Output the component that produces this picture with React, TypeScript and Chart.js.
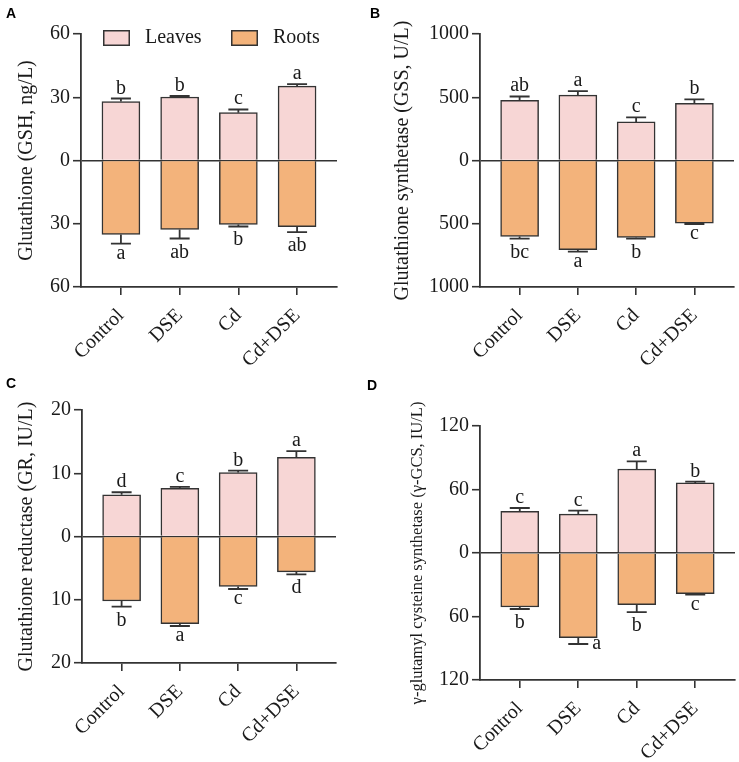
import React, { useEffect, useRef } from 'react';
import { Chart, registerables } from 'chart.js';
Chart.register(...registerables);

// ---------- data ----------
const categories = ['Control', 'DSE', 'Cd', 'Cd+DSE'];
const seriesNames = ['Leaves', 'Roots'];

// A: Glutathione (GSH, ng/L)
const gshTicks = [-60, -30, 0, 30, 60];
const gshLeaves = [28.0, 30.1, 22.7, 35.3];
const gshLeavesSE = [1.4, 0.5, 1.5, 0.9];
const gshRoots = [35.1, 32.7, 30.3, 31.4];
const gshRootsSE = [4.3, 4.3, 1.0, 2.6];
const gshLeavesLetters = ['b', 'b', 'c', 'a'];
const gshRootsLetters = ['a', 'ab', 'b', 'ab'];

// B: Glutathione synthetase (GSS, U/L)
const gssTicks = [-1000, -500, 0, 500, 1000];
const gssLeaves = [475, 517, 305, 451];
const gssLeavesSE = [31, 32, 36, 32];
const gssRoots = [601, 704, 609, 495];
const gssRootsSE = [16, 16, 8, 7];
const gssLeavesLetters = ['ab', 'a', 'c', 'b'];
const gssRootsLetters = ['bc', 'a', 'b', 'c'];

// C: Glutathione reductase (GR, IU/L)
const grTicks = [-20, -10, 0, 10, 20];
const grLeaves = [6.6, 7.6, 10.1, 12.5];
const grLeavesSE = [0.4, 0.25, 0.3, 1.0];
const grRoots = [10.2, 13.8, 7.9, 5.6];
const grRootsSE = [0.9, 0.35, 0.4, 0.4];
const grLeavesLetters = ['d', 'c', 'b', 'a'];
const grRootsLetters = ['b', 'a', 'c', 'd'];

// D: gamma-glutamyl cysteine synthetase (γ-GCS, IU/L)
const gcsTicks = [-120, -60, 0, 60, 120];
const gcsLeaves = [39.4, 36.8, 79.4, 66.2];
const gcsLeavesSE = [3.1, 3.2, 7.2, 1.2];
const gcsRoots = [51.0, 80.0, 48.8, 38.4];
const gcsRootsSE = [1.9, 6.0, 7.0, 1.0];
const gcsLeavesLetters = ['c', 'c', 'a', 'b'];
const gcsRootsLetters = ['b', 'a', 'b', 'c'];

// ---------- styles ----------
const LEAF = '#F7D6D5';
const ROOT = '#F3B37B';
const EDGE = '#333333';
const INK = '#1a1a1a';
const SERIF = "'Liberation Serif', 'Times New Roman', serif";

type Panel = {
  letter: string;
  title: string;
  titleSize: number;
  titleX: number;
  ticks: number[];
  leaves: number[];
  leavesSE: number[];
  roots: number[];
  rootsSE: number[];
  leavesLetters: string[];
  rootsLetters: string[];
  rootsSide?: boolean[];
  legend?: boolean;
  box: { left: number; top: number; w: number; h: number };
  area: { l: number; t: number; r: number; b: number };
  labelPos: [number, number];
};

const panels: Panel[] = [
  {
    letter: 'A', title: 'Glutathione (GSH, ng/L)', titleSize: 20, titleX: 27,
    ticks: gshTicks, leaves: gshLeaves, leavesSE: gshLeavesSE, roots: gshRoots, rootsSE: gshRootsSE,
    leavesLetters: gshLeavesLetters, rootsLetters: gshRootsLetters, legend: true,
    box: { left: 0, top: 0, w: 360, h: 370 }, area: { l: 81, t: 34, r: 337, b: 287 }, labelPos: [6, 18],
  },
  {
    letter: 'B', title: 'Glutathione synthetase (GSS, U/L)', titleSize: 20, titleX: 43,
    ticks: gssTicks, leaves: gssLeaves, leavesSE: gssLeavesSE, roots: gssRoots, rootsSE: gssRootsSE,
    leavesLetters: gssLeavesLetters, rootsLetters: gssRootsLetters,
    box: { left: 360, top: 0, w: 379, h: 370 }, area: { l: 120, t: 34, r: 374, b: 287 }, labelPos: [10, 18],
  },
  {
    letter: 'C', title: 'Glutathione reductase (GR, IU/L)', titleSize: 20, titleX: 27,
    ticks: grTicks, leaves: grLeaves, leavesSE: grLeavesSE, roots: grRoots, rootsSE: grRootsSE,
    leavesLetters: grLeavesLetters, rootsLetters: grRootsLetters,
    box: { left: 0, top: 370, w: 360, h: 392 }, area: { l: 82, t: 40, r: 336, b: 293 }, labelPos: [6, 18],
  },
  {
    letter: 'D', title: 'γ-glutamyl cysteine synthetase (γ-GCS, IU/L)', titleSize: 16.5, titleX: 58,
    ticks: gcsTicks, leaves: gcsLeaves, leavesSE: gcsLeavesSE, roots: gcsRoots, rootsSE: gcsRootsSE,
    leavesLetters: gcsLeavesLetters, rootsLetters: gcsRootsLetters, rootsSide: [false, true, false, false],
    box: { left: 360, top: 370, w: 379, h: 392 }, area: { l: 120, t: 56, r: 375, b: 310 }, labelPos: [7, 20],
  },
];

const BAR_W = 38;

function makeAnnot(p: Panel) {
  return {
    id: 'annot' + p.letter,
    afterDatasetsDraw(chart: any) {
      const { ctx } = chart;
      const xs = chart.scales.x;
      const ys = chart.scales.y;
      ctx.save();
      ctx.strokeStyle = EDGE;
      ctx.lineWidth = 1.8;
      const cap = 10;
      ctx.font = `20px ${SERIF}`;
      ctx.fillStyle = INK;
      categories.forEach((_, i) => {
        const cx = xs.getPixelForValue(i);
        const y0 = ys.getPixelForValue(p.leaves[i]);
        const y1 = ys.getPixelForValue(p.leaves[i] + p.leavesSE[i]);
        ctx.beginPath();
        ctx.moveTo(cx, y0); ctx.lineTo(cx, y1);
        ctx.moveTo(cx - cap, y1); ctx.lineTo(cx + cap, y1);
        ctx.stroke();
        const r0 = ys.getPixelForValue(-p.roots[i]);
        const r1 = ys.getPixelForValue(-(p.roots[i] + p.rootsSE[i]));
        ctx.beginPath();
        ctx.moveTo(cx, r0); ctx.lineTo(cx, r1);
        ctx.moveTo(cx - cap, r1); ctx.lineTo(cx + cap, r1);
        ctx.stroke();
        ctx.textAlign = 'center';
        ctx.textBaseline = 'alphabetic';
        ctx.fillText(p.leavesLetters[i], cx, y1 - 5);
        const lt = p.rootsLetters[i];
        if (p.rootsSide && p.rootsSide[i]) {
          ctx.textAlign = 'left';
          ctx.fillText(lt, cx + cap + 4, r1 + 5);
        } else {
          const asc = ctx.measureText(lt).actualBoundingBoxAscent || 13;
          ctx.fillText(lt, cx, r1 + 5 + asc);
        }
      });
      ctx.restore();
    },
    afterDraw(chart: any) {
      const { ctx, chartArea } = chart;
      ctx.save();
      ctx.fillStyle = INK;
      ctx.font = `${p.titleSize}px ${SERIF}`;
      ctx.textAlign = 'center';
      ctx.textBaseline = 'middle';
      ctx.translate(p.titleX, (chartArea.top + chartArea.bottom) / 2);
      ctx.rotate(-Math.PI / 2);
      ctx.fillText(p.title, 0, 0);
      ctx.restore();
      ctx.save();
      ctx.fillStyle = '#000';
      ctx.font = `bold 14px 'Liberation Sans', Arial, sans-serif`;
      ctx.textAlign = 'left';
      ctx.textBaseline = 'alphabetic';
      ctx.fillText(p.letter, p.labelPos[0], p.labelPos[1]);
      ctx.restore();
      if (p.legend) {
        ctx.save();
        const ds = chart.data.datasets;
        const items = [
          { x: 103, tx: 145 },
          { x: 231, tx: 273 },
        ];
        ds.forEach((d: any, k: number) => {
          const it = items[k];
          ctx.fillStyle = d.backgroundColor;
          ctx.fillRect(it.x, 30, 27, 16);
          ctx.strokeStyle = EDGE;
          ctx.lineWidth = 1.5;
          ctx.strokeRect(it.x + 0.75, 30.75, 25.5, 14.5);
          ctx.fillStyle = INK;
          ctx.font = `20px ${SERIF}`;
          ctx.textAlign = 'left';
          ctx.textBaseline = 'middle';
          ctx.fillText(d.label, it.tx, 38);
        });
        ctx.restore();
      }
    },
  };
}

function PanelChart({ p }: { p: Panel }) {
  const ref = useRef<HTMLCanvasElement>(null);
  useEffect(() => {
    if (!ref.current) return;
    const { w, h } = p.box;
    const a = p.area;
    const yMax = Math.max(...p.ticks);
    const tickFont = { family: SERIF, size: 20 };
    const chart = new Chart(ref.current, {
      type: 'bar',
      data: {
        datasets: [
          {
            label: seriesNames[0],
            data: p.leaves.map((v, i) => ({ x: i, y: v })),
            backgroundColor: LEAF,
            borderColor: EDGE,
            borderWidth: 1.5,
            barThickness: BAR_W,
            grouped: false,
          },
          {
            label: seriesNames[1],
            data: p.roots.map((v, i) => ({ x: i, y: -v })),
            backgroundColor: ROOT,
            borderColor: EDGE,
            borderWidth: 1.5,
            barThickness: BAR_W,
            grouped: false,
          },
        ] as any,
      },
      options: {
        animation: false,
        responsive: false,
        devicePixelRatio: 1,
        layout: { padding: { left: 0, top: a.t, right: w - a.r, bottom: 0 } },
        plugins: { legend: { display: false }, tooltip: { enabled: false } },
        scales: {
          x: {
            type: 'linear',
            offset: false,
            min: -0.68,
            max: 3.68,
            afterBuildTicks: (s: any) => { s.ticks = categories.map((_, i) => ({ value: i })); },
            afterFit: (s: any) => { s.height = h - a.b; },
            ticks: {
              callback: (v: any) => categories[v as number] ?? '',
              autoSkip: false,
              maxRotation: 45,
              minRotation: 45,
              font: tickFont,
              color: INK,
              padding: 9,
            },
            grid: { offset: false, drawOnChartArea: false, color: EDGE, tickColor: EDGE, tickLength: 8, lineWidth: 1.6 },
            border: { display: true, color: EDGE, width: 1.8 },
          },
          y: {
            min: -yMax,
            max: yMax,
            afterBuildTicks: (s: any) => { s.ticks = p.ticks.map((v) => ({ value: v })); },
            afterFit: (s: any) => { s.width = a.l; },
            ticks: {
              callback: (v: any) => String(Math.abs(v as number)),
              font: tickFont,
              color: INK,
              padding: 3,
            },
            grid: {
              color: (c: any) => (c.tick && c.tick.value === 0 ? EDGE : 'rgba(0,0,0,0)'),
              tickColor: EDGE,
              tickLength: 8,
              lineWidth: 1.4,
              tickWidth: 1.6,
            } as any,
            border: { display: true, color: EDGE, width: 1.8 },
          },
        } as any,
      },
      plugins: [makeAnnot(p)],
    });
    return () => chart.destroy();
  }, [p]);
  return (
    <canvas
      ref={ref}
      width={p.box.w}
      height={p.box.h}
      style={{ position: 'absolute', left: p.box.left, top: p.box.top, width: p.box.w, height: p.box.h }}
    />
  );
}

export default function App() {
  return (
    <div style={{ position: 'absolute', left: 0, top: 0, width: 739, height: 762, background: '#fff' }}>
      {panels.map((p) => (
        <PanelChart key={p.letter} p={p} />
      ))}
    </div>
  );
}
